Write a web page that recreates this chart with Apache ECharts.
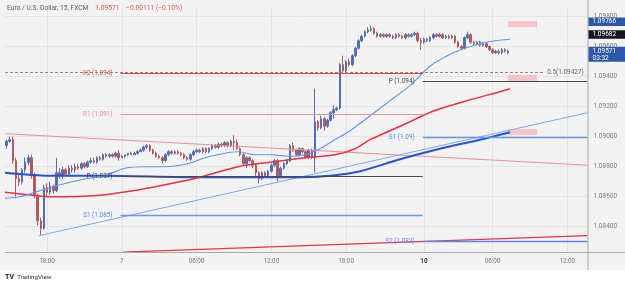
<!DOCTYPE html>
<html>
<head>
<meta charset="utf-8">
<script src="https://cdn.jsdelivr.net/npm/echarts@6/dist/echarts.min.js"></script>
<style>
  html, body { margin: 0; padding: 0; background: #fff; }
  #chart { width: 625px; height: 285px; }
</style>
</head>
<body>
<div id="chart"></div>
<script>
// EUR/USD 15 min candles, [open, close, low, high]
const ohlc = [
  [1.0894, 1.0897, 1.0892, 1.0898], [1.0897, 1.0898, 1.0896, 1.0900], [1.0898, 1.0884, 1.0882, 1.0900],
  [1.0884, 1.0872, 1.0860, 1.0886], [1.0872, 1.0870, 1.0867, 1.0876], [1.0870, 1.0878, 1.0868, 1.0879],
  [1.0878, 1.0883, 1.0876, 1.0886], [1.0883, 1.0886, 1.0881, 1.0888], [1.0886, 1.0874, 1.0872, 1.0888],
  [1.0874, 1.0861, 1.0859, 1.0876], [1.0861, 1.0844, 1.0841, 1.0862], [1.0844, 1.0839, 1.0834, 1.0846],
  [1.0839, 1.0866, 1.0838, 1.0868], [1.0866, 1.0863, 1.0860, 1.0869], [1.0863, 1.0867, 1.0861, 1.0870],
  [1.0867, 1.0864, 1.0862, 1.0868], [1.0864, 1.0876, 1.0863, 1.0886], [1.0876, 1.0874, 1.0872, 1.0879],
  [1.0874, 1.0878, 1.0872, 1.0880], [1.0878, 1.0875, 1.0874, 1.0879], [1.0875, 1.0879, 1.0874, 1.0881],
  [1.0879, 1.0878, 1.0876, 1.0881], [1.0878, 1.0880, 1.0876, 1.0882], [1.0880, 1.0879, 1.0878, 1.0882],
  [1.0879, 1.0882, 1.0878, 1.0883], [1.0882, 1.0880, 1.0879, 1.0883], [1.0880, 1.0883, 1.0879, 1.0884],
  [1.0883, 1.0884, 1.0882, 1.0886], [1.0884, 1.0883, 1.0882, 1.0886], [1.0883, 1.0886, 1.0882, 1.0887],
  [1.0886, 1.0885, 1.0884, 1.0887], [1.0885, 1.0888, 1.0884, 1.0889], [1.0888, 1.0887, 1.0886, 1.0889],
  [1.0887, 1.0888, 1.0886, 1.0889], [1.0888, 1.0887, 1.0886, 1.0889], [1.0887, 1.0889, 1.0886, 1.0890],
  [1.0889, 1.0886, 1.0884, 1.0891], [1.0886, 1.0887, 1.0886, 1.0888], [1.0887, 1.0888, 1.0886, 1.0888],
  [1.0888, 1.0889, 1.0887, 1.0889], [1.0889, 1.0888, 1.0888, 1.0890], [1.0888, 1.0889, 1.0888, 1.0890],
  [1.0889, 1.0890, 1.0888, 1.0891], [1.0890, 1.0891, 1.0890, 1.0892], [1.0891, 1.0893, 1.0890, 1.0894],
  [1.0893, 1.0894, 1.0892, 1.0895], [1.0894, 1.0891, 1.0890, 1.0895], [1.0891, 1.0889, 1.0888, 1.0892],
  [1.0889, 1.0887, 1.0886, 1.0890], [1.0887, 1.0886, 1.0885, 1.0888], [1.0886, 1.0884, 1.0882, 1.0887],
  [1.0884, 1.0888, 1.0883, 1.0889], [1.0888, 1.0890, 1.0887, 1.0891], [1.0890, 1.0889, 1.0888, 1.0891],
  [1.0889, 1.0890, 1.0888, 1.0891], [1.0890, 1.0889, 1.0888, 1.0891], [1.0889, 1.0888, 1.0887, 1.0890],
  [1.0888, 1.0886, 1.0885, 1.0889], [1.0886, 1.0885, 1.0884, 1.0887], [1.0885, 1.0888, 1.0884, 1.0889],
  [1.0888, 1.0890, 1.0887, 1.0891], [1.0890, 1.0891, 1.0889, 1.0892], [1.0891, 1.0890, 1.0889, 1.0892],
  [1.0890, 1.0892, 1.0889, 1.0893], [1.0892, 1.0890, 1.0889, 1.0893], [1.0890, 1.0892, 1.0889, 1.0893],
  [1.0892, 1.0894, 1.0891, 1.0895], [1.0894, 1.0893, 1.0892, 1.0895], [1.0893, 1.0895, 1.0892, 1.0896],
  [1.0895, 1.0894, 1.0893, 1.0896], [1.0894, 1.0896, 1.0893, 1.0897], [1.0896, 1.0894, 1.0893, 1.0897],
  [1.0894, 1.0897, 1.0893, 1.0898], [1.0897, 1.0896, 1.0891, 1.0901], [1.0896, 1.0892, 1.0891, 1.0898],
  [1.0892, 1.0888, 1.0887, 1.0893], [1.0888, 1.0882, 1.0881, 1.0889], [1.0882, 1.0886, 1.0879, 1.0887],
  [1.0886, 1.0884, 1.0883, 1.0887], [1.0884, 1.0881, 1.0879, 1.0885], [1.0881, 1.0876, 1.0874, 1.0882],
  [1.0876, 1.0872, 1.0869, 1.0877], [1.0872, 1.0876, 1.0871, 1.0877], [1.0876, 1.0874, 1.0873, 1.0877],
  [1.0874, 1.0877, 1.0873, 1.0878], [1.0877, 1.0881, 1.0876, 1.0882], [1.0881, 1.0884, 1.0880, 1.0885],
  [1.0884, 1.0874, 1.0870, 1.0885], [1.0874, 1.0879, 1.0873, 1.0880], [1.0879, 1.0882, 1.0878, 1.0883],
  [1.0882, 1.0884, 1.0881, 1.0885], [1.0884, 1.0894, 1.0883, 1.0895], [1.0894, 1.0891, 1.0890, 1.0896],
  [1.0891, 1.0888, 1.0887, 1.0892], [1.0888, 1.0892, 1.0887, 1.0893], [1.0892, 1.0890, 1.0889, 1.0893],
  [1.0890, 1.0886, 1.0885, 1.0891], [1.0886, 1.0891, 1.0885, 1.0892], [1.0891, 1.0886, 1.0885, 1.0892],
  [1.0886, 1.0910, 1.0876, 1.0932], [1.0910, 1.0906, 1.0904, 1.0911], [1.0906, 1.0912, 1.0905, 1.0914],
  [1.0912, 1.0907, 1.0904, 1.0913], [1.0907, 1.0911, 1.0906, 1.0912], [1.0911, 1.0916, 1.0910, 1.0917],
  [1.0916, 1.0918, 1.0912, 1.0921], [1.0918, 1.0919, 1.0917, 1.0920], [1.0919, 1.0948, 1.0918, 1.0949],
  [1.0948, 1.0944, 1.0943, 1.0954], [1.0944, 1.0950, 1.0943, 1.0951], [1.0950, 1.0948, 1.0947, 1.0952],
  [1.0948, 1.0954, 1.0947, 1.0955], [1.0954, 1.0959, 1.0953, 1.0960], [1.0959, 1.0964, 1.0958, 1.0965],
  [1.0964, 1.0967, 1.0963, 1.0968], [1.0967, 1.0970, 1.0966, 1.0971], [1.0970, 1.0971, 1.0969, 1.0973],
  [1.0971, 1.0972, 1.0970, 1.0974], [1.0972, 1.0969, 1.0968, 1.0973], [1.0969, 1.0967, 1.0966, 1.0970],
  [1.0967, 1.0968, 1.0966, 1.0969], [1.0968, 1.0967, 1.0966, 1.0969], [1.0967, 1.0968, 1.0966, 1.0969],
  [1.0968, 1.0967, 1.0966, 1.0969], [1.0967, 1.0966, 1.0965, 1.0968], [1.0966, 1.0968, 1.0965, 1.0969],
  [1.0968, 1.0967, 1.0966, 1.0969], [1.0967, 1.0966, 1.0965, 1.0968], [1.0966, 1.0968, 1.0965, 1.0969],
  [1.0968, 1.0967, 1.0966, 1.0969], [1.0967, 1.0968, 1.0966, 1.0969], [1.0968, 1.0969, 1.0967, 1.0970],
  [1.0969, 1.0964, 1.0963, 1.0970], [1.0964, 1.0963, 1.0958, 1.0966], [1.0963, 1.0965, 1.0962, 1.0966],
  [1.0965, 1.0964, 1.0963, 1.0966], [1.0964, 1.0966, 1.0963, 1.0967], [1.0966, 1.0968, 1.0965, 1.0969],
  [1.0968, 1.0967, 1.0966, 1.0969], [1.0967, 1.0968, 1.0966, 1.0969], [1.0968, 1.0966, 1.0965, 1.0969],
  [1.0966, 1.0967, 1.0965, 1.0968], [1.0967, 1.0966, 1.0965, 1.0968], [1.0966, 1.0967, 1.0965, 1.0968],
  [1.0967, 1.0963, 1.0962, 1.0968], [1.0963, 1.0960, 1.0959, 1.0964], [1.0960, 1.0959, 1.0958, 1.0961],
  [1.0959, 1.0966, 1.0958, 1.0967], [1.0966, 1.0968, 1.0965, 1.0970], [1.0968, 1.0963, 1.0962, 1.0969],
  [1.0963, 1.0962, 1.0961, 1.0964], [1.0962, 1.0963, 1.0961, 1.0964], [1.0963, 1.0961, 1.0960, 1.0964],
  [1.0961, 1.0962, 1.0960, 1.0963], [1.0962, 1.0960, 1.0959, 1.0963], [1.0960, 1.0958, 1.0957, 1.0961],
  [1.0958, 1.0956, 1.0955, 1.0959], [1.0956, 1.0957, 1.0955, 1.0958], [1.0957, 1.0956, 1.0955, 1.0958],
  [1.0956, 1.0958, 1.0955, 1.0959], [1.0958, 1.0957, 1.0956, 1.0959], [1.0956, 1.09571, 1.0955, 1.0958]
];

// bar slots on the time axis (data + empty space on the right)
const slotCount = 187;
const tickIdx = [13, 37, 61, 85, 109, 134, 156, 180];
const tickText = ['18:00', '7', '06:00', '12:00', '18:00', '10', '06:00', '12:00'];

// moving averages, [bar position, price]
const maFast = [[0, 1.0859], [4.8, 1.0860], [11.2, 1.0864], [17.7, 1.0868], [26, 1.0872], [32.1, 1.0874],
  [38.5, 1.0879], [44.9, 1.0880], [51.4, 1.0880], [58.7, 1.0882], [64.2, 1.0886], [70.6, 1.0889],
  [74.8, 1.0890], [80.3, 1.0888], [85.7, 1.0888], [90.9, 1.0887], [96.3, 1.0888], [101.1, 1.0892],
  [105.9, 1.0898], [110.8, 1.0904], [117.2, 1.0914], [123.6, 1.0924], [130, 1.0934], [136.4, 1.0947],
  [142.9, 1.0955], [147.7, 1.0959], [152.5, 1.0962], [157.3, 1.0964], [162.1, 1.0965]];
const maMid = [[0, 1.0863], [9, 1.0861], [14.4, 1.0860], [30.5, 1.0861], [41.1, 1.0864], [51.4, 1.0868],
  [62.6, 1.0873], [74.8, 1.0880], [85.1, 1.0883], [96.3, 1.0886], [105.9, 1.0888], [112.4, 1.0892],
  [117.2, 1.0898], [123.6, 1.0904], [130, 1.0910], [137.4, 1.0917], [148.3, 1.0924], [158.9, 1.0930],
  [162.1, 1.0932]];
const maSlow = [[0, 1.0876], [14.4, 1.0874], [30.5, 1.0874], [62.6, 1.0873], [94.7, 1.0873], [104.3, 1.0874],
  [114, 1.0877], [126.8, 1.0885], [139.6, 1.0892], [152.5, 1.0898], [162.1, 1.0903]];

// drawn trend lines
const trendFall = [[0, 1.0902], [187, 1.0881]];
const trendRise = [[10.9, 1.0834], [187, 1.0916]];
const trendLong = [[37.9, 1.0823], [187, 1.0834]];

// daily pivots: [from, to, price, label]
const pivotsPrev = [[37.1, 134.1, 1.0942, 'R2 (1.094)'], [37.1, 134.1, 1.09148, 'R1 (1.091)'],
  [37.1, 134.1, 1.08738, 'P (1.087)'], [37.1, 134.1, 1.08478, 'S1 (1.085)']];
const pivotsNow = [[134.1, 187, 1.09371, 'P (1.094)'], [134.1, 187, 1.08998, 'S1 (1.09)'],
  [134.1, 187, 1.08304, 'S2 (1.083)']];

// horizontal price levels
const levelHigh = 1.09766, levelMark = 1.0974, levelPrev = 1.09682, lastPrice = 1.09571;
const fibHalf = 1.09427, levelLow = 1.08338;
const zones = [[161.5, 170.8, 1.09731, 1.09771], [161.5, 170.8, 1.09371, 1.09411], [161.5, 170.8, 1.09011, 1.09051]];

const FONT = 'Roboto, "Noto Sans", sans-serif';
const pivotColor = { R2: ['#f23645', '#e0505c', 1], R1: ['#f6909a', '#f08a94', 1], P: ['#4a4a4a', '#3d3d3d', 1],
  S1: ['#6797f2', '#5b8def', 1.3], S2: ['#5a88ec', '#5b8def', 1.3] };

const chart = echarts.init(document.getElementById('chart'));

function pivotLine(p) {
  const c = pivotColor[p[3].split(' ')[0]];
  return [
    { coord: [p[0], p[2]], lineStyle: { color: c[0], width: c[2], type: 'solid', opacity: 1 },
      label: { show: true, position: 'start', distance: 8, formatter: p[3], color: c[1], fontSize: 6.4, fontFamily: FONT } },
    { coord: [p[1], p[2]] }
  ];
}

const onTick = (v) => Math.abs(v * 500 - Math.round(v * 500)) < 1e-6;

const option = {
  backgroundColor: '#f3f3f3',
  animation: false,
  grid: { left: 5, right: 37.5, top: 9.2, bottom: 28.3 },
  xAxis: [{
    type: 'category',
    data: Array.from({ length: slotCount }, (_, i) => String(i)),
    boundaryGap: true,
    axisLine: { show: false },
    axisTick: { show: false },
    splitLine: { show: false },
    axisLabel: { show: false }
  }, {
    type: 'value', show: false, min: 0, max: slotCount
  }],
  yAxis: {
    type: 'value', position: 'right', min: 1.082, max: 1.0985, interval: 0.002, scale: true,
    axisLine: { show: false }, axisTick: { show: false },
    splitLine: { lineStyle: { color: '#e5e5e5', width: 1 }, showMinLine: false, showMaxLine: false },
    axisLabel: {
      margin: 6, color: '#7a7a7a', fontSize: 6.5, fontFamily: FONT,
      showMinLabel: false,
      formatter: (v) => (v < 1.083 || !onTick(v)) ? '' : v.toFixed(5)
    }
  },
  series: [
    {
      name: 'grid', type: 'line', xAxisIndex: 1, data: [], silent: true, z: 1,
      markLine: {
        z: 1, symbol: 'none', silent: true, animation: false, label: { show: false },
        lineStyle: { color: '#e3e3e3', width: 1, type: 'solid' },
        data: tickIdx.map(i => [{ coord: [i + 0.5, 1.0823] }, { coord: [i + 0.5, 1.0985] }])
      }
    },
    {
      name: 'EURUSD', type: 'candlestick', data: ohlc, barWidth: 2,
      itemStyle: { color: '#5170b4', color0: '#b5585f', borderColor: '#5170b4', borderColor0: '#b5585f', borderWidth: 1 }
    },
    {
      name: 'levels', type: 'line', xAxisIndex: 1, data: [], silent: true,
      markArea: {
        silent: true, itemStyle: { color: '#f5c3c9' },
        data: zones.map(z => [{ coord: [z[0], z[2]] }, { coord: [z[1], z[3]] }])
      },
      markLine: {
        symbol: 'none', silent: true, animation: false, label: { show: false },
        data: [
          { yAxis: levelHigh, lineStyle: { color: '#5577bf', width: 1.2, type: 'solid' } },
          { yAxis: levelMark, lineStyle: { color: '#a0a0a0', width: 1, type: [2, 2] } },
          { yAxis: levelPrev, lineStyle: { color: '#9a9a9a', width: 1, type: [2, 2] } },
          { yAxis: lastPrice, lineStyle: { color: '#86a3dc', width: 1, type: [1, 2] } },
          { yAxis: levelLow, lineStyle: { color: '#a8a8a8', width: 1, type: [1, 2] } },
          [
            { coord: [0, fibHalf], lineStyle: { color: '#8c8c8c', width: 1, type: [3, 2] },
              label: { show: true, position: 'end', distance: 2, formatter: '0.5(1.09427)', color: '#666', fontSize: 6.4, fontFamily: FONT } },
            { coord: [173.4, fibHalf] }
          ]
        ].concat(pivotsPrev.map(pivotLine), pivotsNow.map(pivotLine))
      }
    },
    { name: 'trendFall', type: 'line', xAxisIndex: 1, data: trendFall, symbol: 'none', silent: true,
      lineStyle: { color: '#f28b96', width: 1 } },
    { name: 'trendRise', type: 'line', xAxisIndex: 1, data: trendRise, symbol: 'none', silent: true,
      lineStyle: { color: '#7ea8f6', width: 1 } },
    { name: 'trendLong', type: 'line', xAxisIndex: 1, data: trendLong, symbol: 'none', silent: true,
      lineStyle: { color: '#ef3346', width: 1.3 } },
    { name: 'maSlow', type: 'line', xAxisIndex: 1, data: maSlow, symbol: 'none', smooth: 0.3, silent: true,
      lineStyle: { color: '#2452d8', width: 2 } },
    { name: 'maMid', type: 'line', xAxisIndex: 1, data: maMid, symbol: 'none', smooth: 0.3, silent: true,
      lineStyle: { color: '#ef2f44', width: 1.5 } },
    { name: 'maFast', type: 'line', xAxisIndex: 1, data: maFast, symbol: 'none', smooth: 0.3, silent: true,
      lineStyle: { color: '#5b95ef', width: 1.1 } }
  ]
};

chart.setOption(option);

// price tags on the right axis, time labels and the frame around the panes
const yPix = (p) => chart.convertToPixel({ yAxisIndex: 0 }, p);
const axisX = chart.convertToPixel({ xAxisIndex: 1 }, slotCount);
const stripTop = Math.round(yPix(1.0823)) + 0.5;
const tags = [
  { price: levelHigh, text: '1.09766', bg: '#2c57ad' },
  { price: levelPrev, text: '1.09682', bg: '#131722' },
  { price: lastPrice, text: '1.09571', sub: '03:32', bg: '#2c57ad' }
];
const graphics = [
  { type: 'rect', z: 90, shape: { x: 0, y: stripTop, width: axisX, height: 270 - stripTop }, style: { fill: '#f3f3f3' } },
  { type: 'rect', z: 90, shape: { x: 0, y: 270, width: 625, height: 15 }, style: { fill: '#ffffff' } },
  { type: 'line', z: 90, shape: { x1: 5, y1: stripTop, x2: 625, y2: stripTop }, style: { stroke: '#a9a9a9', lineWidth: 1 } },
  { type: 'line', z: 90, shape: { x1: axisX + 0.5, y1: 0, x2: axisX + 0.5, y2: 270 }, style: { stroke: '#a9a9a9', lineWidth: 1 } },
  { type: 'text', z: 90, x: 7, y: 8.5, style: {
      text: '{n|Euro / U.S. Dollar, 15, FXCM}  {r|1.09571}  {r|\u22120.00111 (\u22120.10%)}',
      verticalAlign: 'middle',
      rich: { n: { fill: '#5d606b', fontSize: 6.7, fontFamily: FONT }, r: { fill: '#e8505f', fontSize: 6.7, fontFamily: FONT } }
  } },
  { type: 'text', z: 90, x: 5, y: 277.5, style: {
      text: '{l|TV} {t|TradingView}', verticalAlign: 'middle',
      rich: { l: { fill: '#131722', fontSize: 7, fontWeight: 'bold', fontFamily: FONT }, t: { fill: '#333', fontSize: 6.2, fontFamily: FONT } }
  } }
];
tickIdx.forEach((idx, k) => {
  const x = chart.convertToPixel({ xAxisIndex: 1 }, idx + 0.5);
  const bold = tickText[k] === '10';
  graphics.push({ type: 'text', z: 95, x: x, y: 261.5, style: {
    text: tickText[k], align: 'center', verticalAlign: 'middle', fill: bold ? '#333' : '#7a7a7a',
    fontSize: 6.3, fontWeight: bold ? 'bold' : 'normal', fontFamily: FONT } });
});
tags.forEach((t) => {
  const y = yPix(t.price);
  const h = t.sub ? 15 : 8.5;
  graphics.push({ type: 'rect', z: 100, shape: { x: axisX + 1, y: y - 4.2, width: 625 - axisX, height: h }, style: { fill: t.bg } });
  graphics.push({ type: 'text', z: 101, x: axisX + 5, y: y, style: { text: t.text, fill: '#fff', fontSize: 6.5, fontFamily: FONT, verticalAlign: 'middle' } });
  if (t.sub) {
    graphics.push({ type: 'text', z: 101, x: axisX + 5, y: y + 7, style: { text: t.sub, fill: '#fff', fontSize: 6.5, fontFamily: FONT, verticalAlign: 'middle' } });
  }
});
chart.setOption({ graphic: graphics });
</script>
</body>
</html>
